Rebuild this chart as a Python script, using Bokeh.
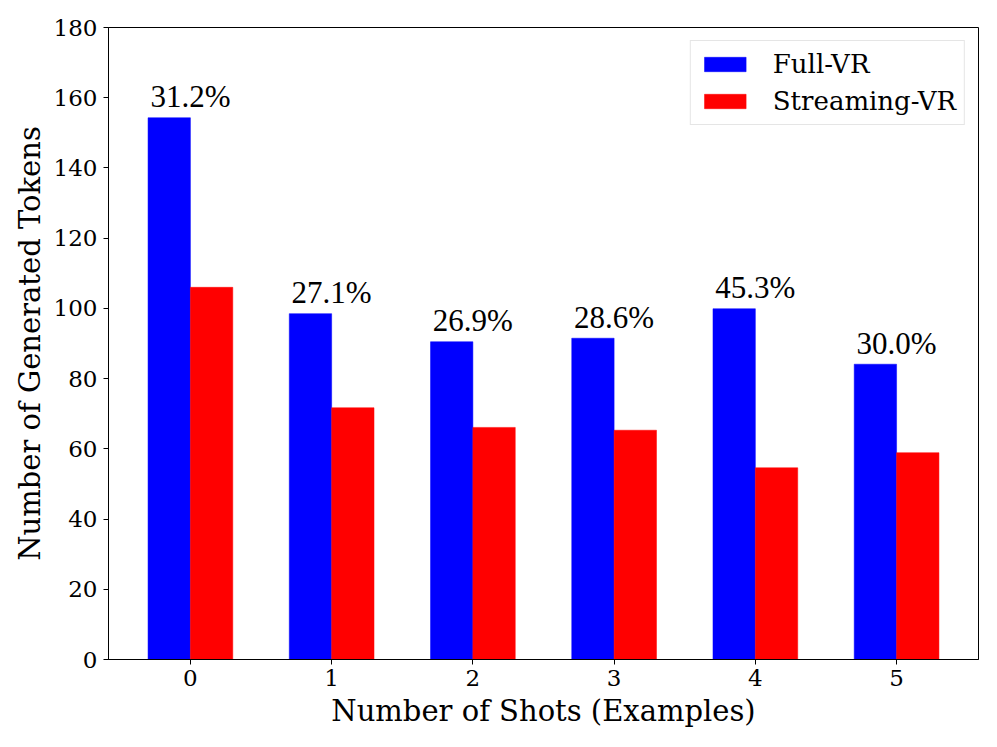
from bokeh.plotting import figure
from bokeh.models import ColumnDataSource, FixedTicker, Range1d, Legend, LegendItem, LabelSet
from bokeh.embed import file_html
from bokeh.resources import INLINE

shots = [0, 1, 2, 3, 4, 5]
full_vr = [154.3, 98.5, 90.5, 91.5, 99.9, 84.1]
streaming_vr = [106.0, 71.7, 66.1, 65.3, 54.6, 58.9]
reduction = ["31.2%", "27.1%", "26.9%", "28.6%", "45.3%", "30.0%"]
y_ticks = [0, 20, 40, 60, 80, 100, 120, 140, 160, 180]

FONT = "DejaVu Serif"
bar_w = 0.3

src = ColumnDataSource(dict(
    x=shots,
    xb=[s - bar_w / 2 for s in shots],
    xr=[s + bar_w / 2 for s in shots],
    full=full_vr,
    stream=streaming_vr,
    lab=reduction,
))

p = figure(width=981, height=737, output_backend="svg", toolbar_location=None,
           x_range=Range1d(-0.58, 5.58), y_range=Range1d(0, 180),
           min_border_left=108, min_border_right=3, min_border_top=27, min_border_bottom=78)

rb = p.vbar(x="xb", top="full", width=bar_w, source=src, fill_color="#0000ff", line_color="#0000ff", line_width=0.5)
rr = p.vbar(x="xr", top="stream", width=bar_w, source=src, fill_color="#ff0000", line_color="#ff0000", line_width=0.5)

labels = LabelSet(x="x", y="full", text="lab", source=src, text_align="center",
                  text_baseline="alphabetic", y_offset=10.6,
                  text_font=FONT, text_font_size="31px", text_color="black")
p.add_layout(labels)

p.xgrid.visible = False
p.ygrid.visible = False
p.outline_line_color = "black"
p.outline_line_width = 1
p.background_fill_color = "white"
p.border_fill_color = "white"

p.xaxis.ticker = FixedTicker(ticks=shots)
p.yaxis.ticker = FixedTicker(ticks=y_ticks)
for ax in (p.xaxis, p.yaxis):
    ax.axis_line_color = "black"
    ax.major_tick_line_color = "black"
    ax.minor_tick_line_color = None
    ax.major_tick_in = 0
    ax.major_tick_out = 5
    ax.major_label_text_font = FONT
    ax.major_label_text_font_size = "23px"
    ax.major_label_text_color = "black"
    ax.axis_label_text_font = FONT
    ax.axis_label_text_font_size = "29px"
    ax.axis_label_text_font_style = "normal"
    ax.axis_label_text_color = "black"

p.xaxis.major_label_standoff = 5
p.yaxis.major_label_standoff = 6
p.xaxis.axis_label = "Number of Shots (Examples)"
p.yaxis.axis_label = "Number of Generated Tokens"
p.xaxis.axis_label_standoff = 5
p.yaxis.axis_label_standoff = 4

legend = Legend(items=[LegendItem(label="Full-VR", renderers=[rb]),
                       LegendItem(label="Streaming-VR", renderers=[rr])],
                location="top_right", margin=13, padding=8, spacing=7,
                glyph_width=52, glyph_height=18, label_standoff=22,
                label_text_font=FONT, label_text_font_size="26px",
                label_text_color="black",
                border_line_color="#cccccc", border_line_width=1,
                background_fill_alpha=0.8)
p.add_layout(legend)

open("out.html", "w").write(file_html(p, INLINE))
